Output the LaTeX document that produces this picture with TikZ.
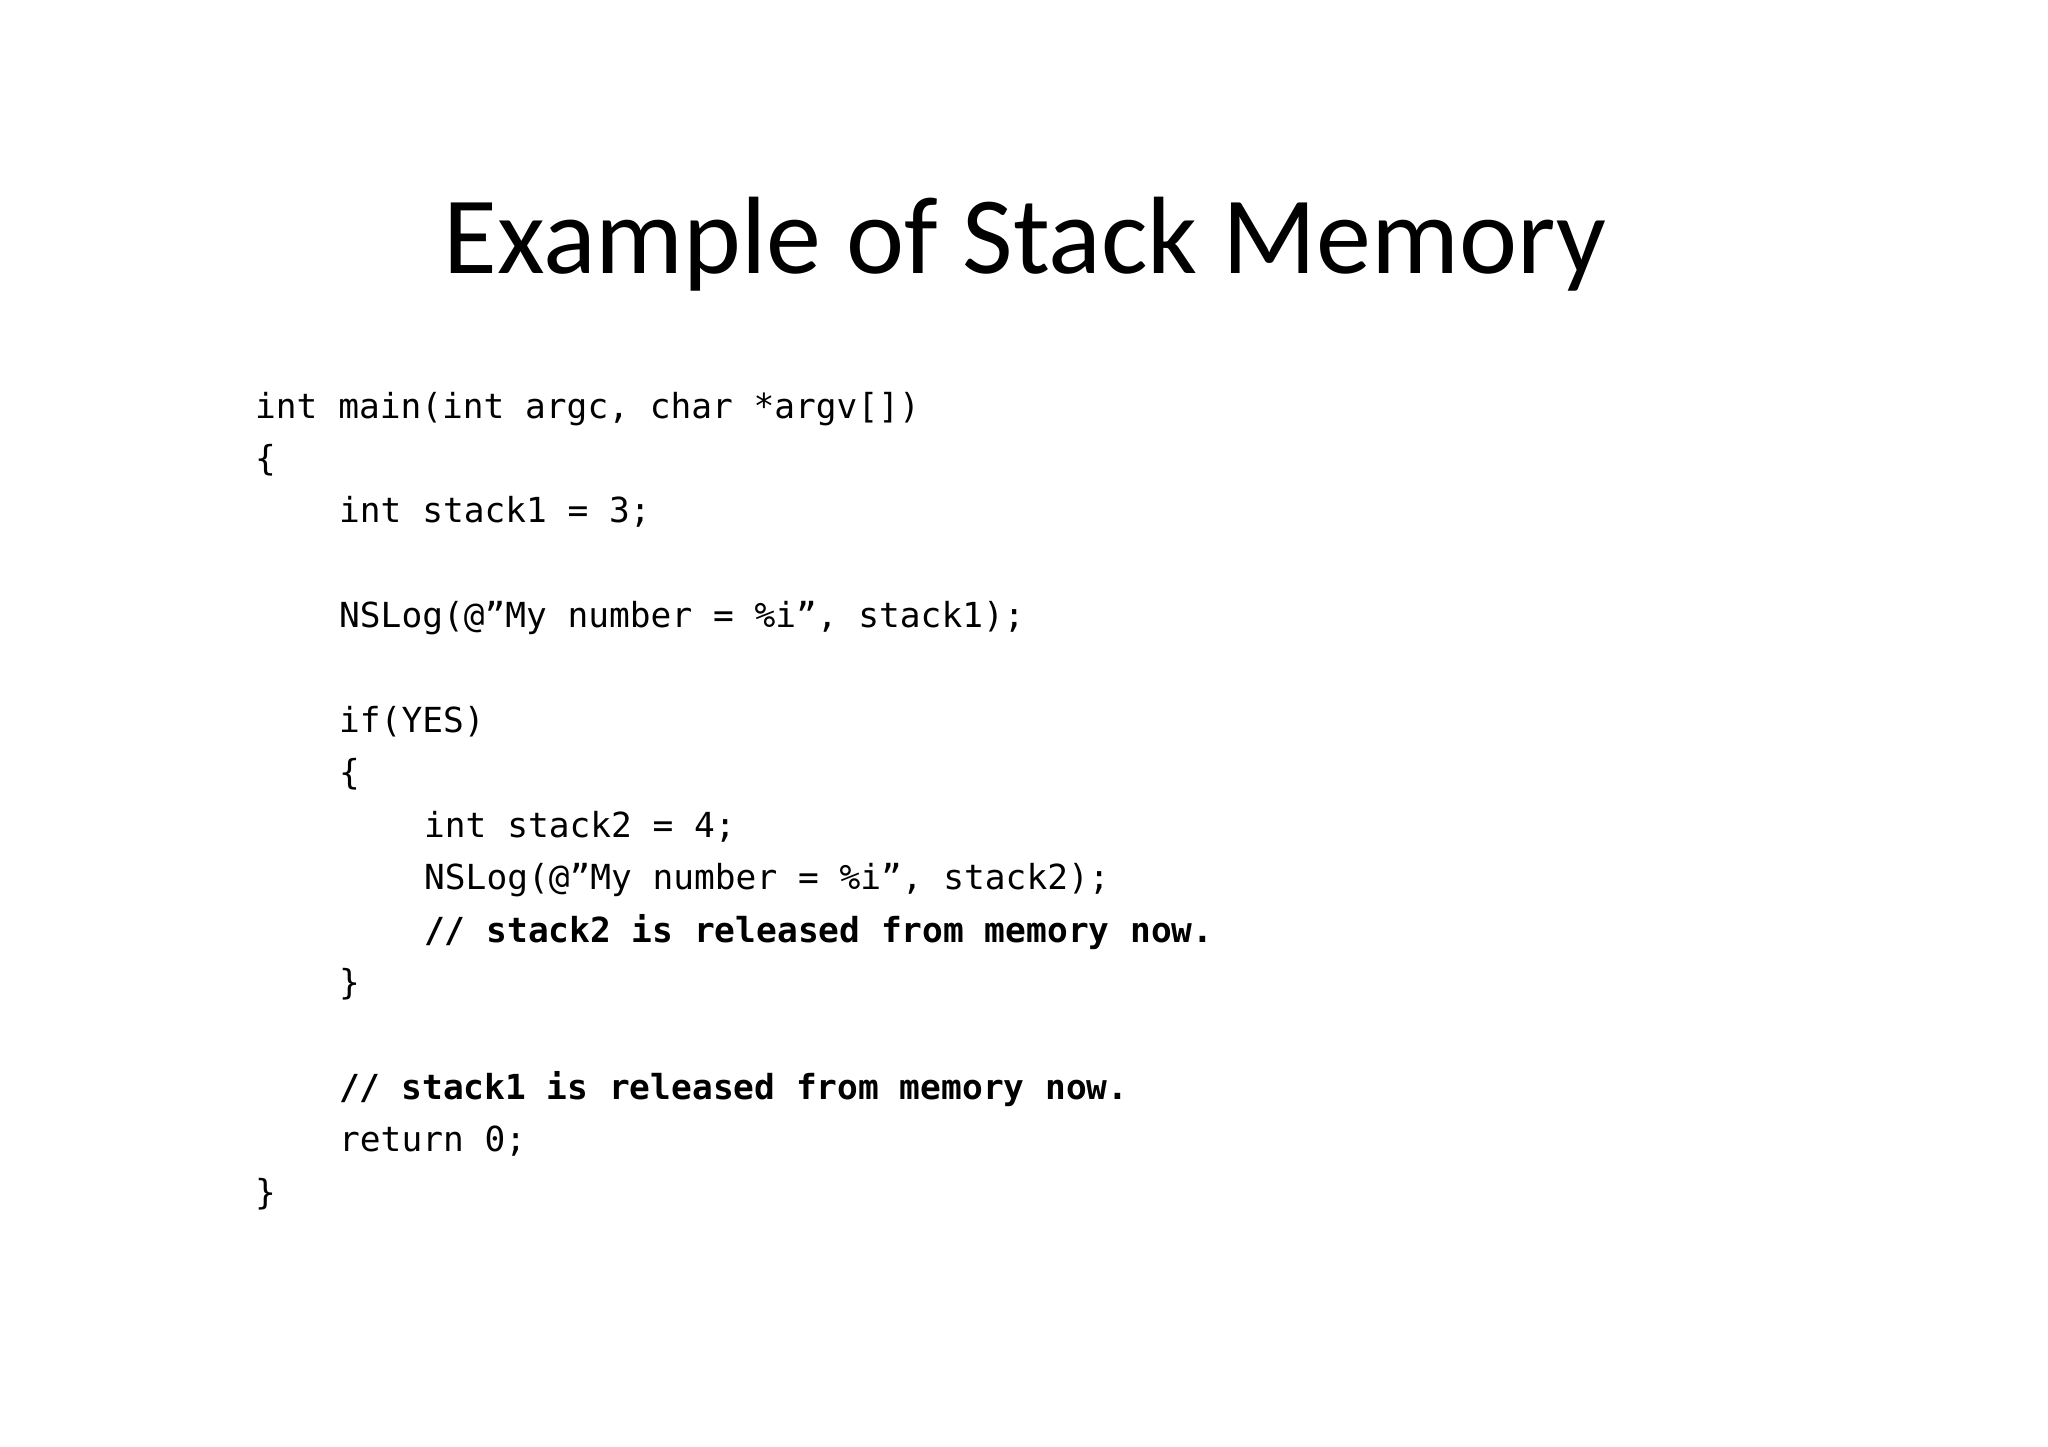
\documentclass[tikz,border=0pt]{standalone}
\usepackage{fontspec}
\setmainfont{Carlito}
\setmonofont{DejaVu Sans Mono}
\begin{document}
\begin{tikzpicture}[x=1pt,y=-1pt,
  code/.style={anchor=base west,inner sep=0pt,font=\fontsize{34.5}{40}\selectfont\ttfamily},
  cmt/.style={code,font=\fontsize{34.5}{40}\selectfont\ttfamily\bfseries}]
\fill[white] (0,0) rectangle (2048,1447);
\useasboundingbox (0,0) rectangle (2048,1447);
\node[anchor=base,inner sep=0pt,font=\fontsize{110}{120}\selectfont] (title) at (1025,274) {Example of Stack Memory};
\def\L#1{\fpeval{418+#1*52.4}}
\node[code] (l0) at (255,418) {int main(int argc, char *argv[])};
\node[code] (l1) at (255,470.4) {\{};
\node[code] (l2) at (339,522.8) {int stack1 = 3;};
\node[code] (l4) at (339,627.6) {NSLog(@”My number = \%i”, stack1);};
\node[code] (l6) at (339,732.4) {if(YES)};
\node[code] (l7) at (339,784.8) {\{};
\node[code] (l8) at (424,837.2) {int stack2 = 4;};
\node[code] (l9) at (424,889.6) {NSLog(@”My number = \%i”, stack2);};
\node[cmt] (l10) at (424,942) {// stack2 is released from memory now.};
\node[code] (l11) at (339,994.4) {\}};
\node[cmt] (l13) at (339,1099.2) {// stack1 is released from memory now.};
\node[code] (l14) at (339,1151.6) {return 0;};
\node[code] (l15) at (255,1204) {\}};
\end{tikzpicture}
\end{document}
